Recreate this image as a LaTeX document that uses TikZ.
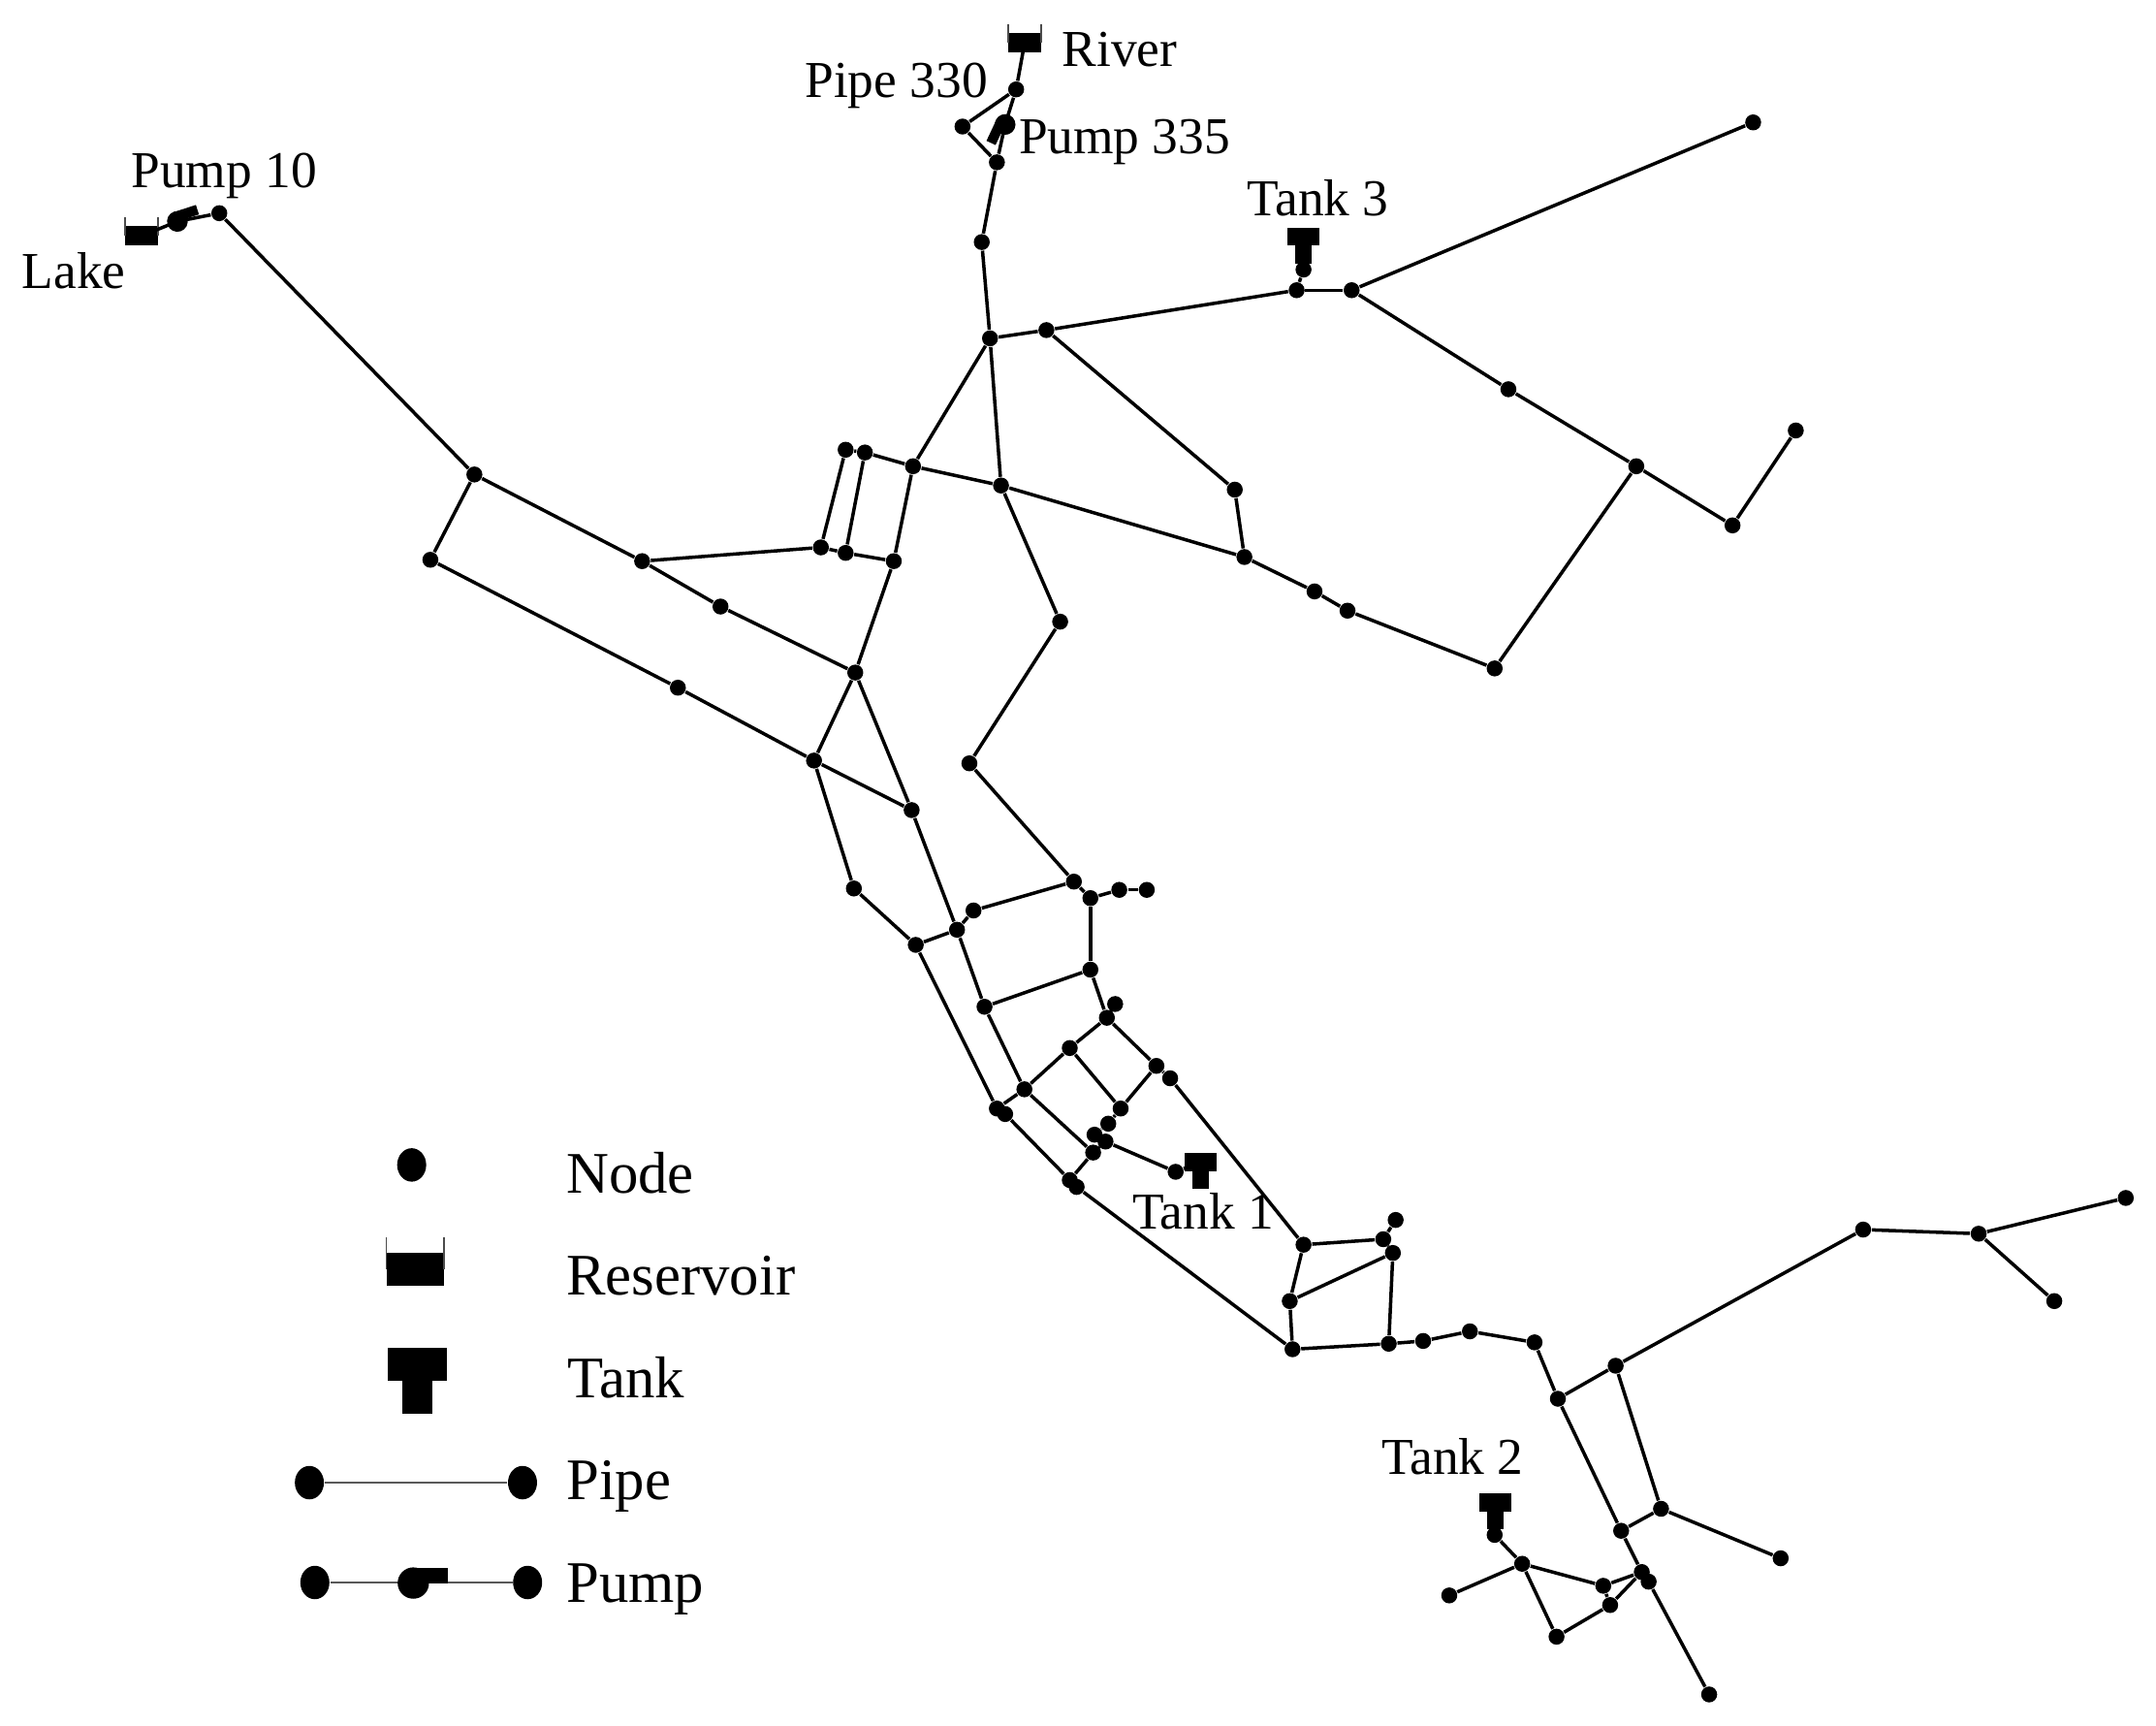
\documentclass[tikz,border=0pt]{standalone}
\usepackage{fontspec}
\setmainfont{Liberation Serif}
\usetikzlibrary{shapes.geometric}
\tikzset{
  junction/.style={circle,fill=black,inner sep=0pt,minimum size=.165cm},
  legendnode/.style={ellipse,fill=black,inner sep=0pt,minimum width=.3cm,minimum height=.345cm},
  pipe/.style={black,line width=1pt},
  legendpipe/.style={black!65,line width=.7pt},
  maplabel/.style={inner sep=0pt,anchor=base west,font=\fontsize{15.2}{18}\selectfont},
  legendlabel/.style={inner sep=0pt,anchor=base west,font=\fontsize{17.3}{20}\selectfont},
  reservoir/.pic={
    \fill (-21,-12.2) rectangle (21,12.2);
    \draw[black!70,line width=.5pt] (-21,-23.5) -- (-21,0) (21,-23.5) -- (21,0);
  },
  tanksym/.pic={
    \fill (-21.8,-12) rectangle (21.8,12);
    \fill (-10.8,12) rectangle (10.8,36);
  },
  pumpsym/.pic={
    \fill (0,0) circle (11.4);
    \fill (0,-11) rectangle (25,0);
  }
}

\begin{document}
\begin{tikzpicture}[x=.014184cm,y=-.014184cm]
  \useasboundingbox (0,0) rectangle (1568,1254.3);

  % junctions
  \foreach \name/\x/\y in {
    1/739/65,2/700/92,3/725/118,4/714/176,5/720/246,6/761/240,7/943/211,8/948/196,
    9/983/211,10/1275/89,11/1097/283,12/1190/339,13/1260/382,14/1306/313,15/1087/486,
    16/980/444,17/956/430,18/905/405,19/898/356,20/728/353,21/664/339,22/629/329,
    23/615/327,24/597/398,25/615/402,26/650/408,27/622/489,28/467/408,29/524/441,
    30/345/345,31/313/407,32/493/500,33/592/553,34/663/589,35/621/646,36/666/687,
    37/696/676,38/708/662,39/781/641,40/793/653,41/814/647,42/834/647,43/771/452,
    44/705/555,45/793/705,46/716/732,47/811/730,48/805/740,49/778/762,50/745/792,
    51/725/806,52/731/810,53/841/775,54/851/784,55/815/806,56/806/817,57/796/825,
    58/804/830,59/795/838,60/778/858,61/783/863,62/855/852,63/948/905,64/1006/901,
    65/1015/887,66/1013/911,67/938/946,68/940/981,69/1010/977,70/1035/975,71/1069/968,
    72/1116/976,73/1133/1017,74/1175/993,75/1355/894,76/1439/897,77/1546/871,78/1494/946,
    79/1208/1097,80/1179/1113,81/1295/1133,82/1194/1143,83/1199/1150,84/1243/1232,
    85/1166/1153,86/1171/1167,87/1132/1190,88/1107/1137,89/1054/1160,90/1087/1116,91/159.5/155}
    \node[junction] (v_\name) at (\x,\y) {};

  % pipes
  \foreach \a/\b in {
    1/2,2/3,3/4,4/5,5/6,6/7,7/8,7/9,9/10,9/11,11/12,12/13,13/14,12/15,15/16,16/17,17/18,
    6/19,19/18,18/20,20/21,21/22,22/23,23/24,22/25,21/26,24/25,25/26,28/24,26/27,21/5,5/20,
    20/43,43/44,44/39,39/40,40/41,41/42,39/38,38/37,37/36,40/45,30/28,28/29,29/27,30/31,
    31/32,32/33,27/33,33/34,27/34,34/37,33/35,35/36,37/46,36/51,91/30,
    46/45,45/48,48/47,48/49,49/50,50/51,51/52,46/50,50/59,49/55,48/53,53/54,53/55,55/56,
    56/57,57/58,58/59,58/62,59/60,52/60,60/61,61/68,54/63,63/64,64/65,64/66,66/67,63/67,
    67/68,68/69,66/69,69/70,70/71,71/72,72/73,73/74,74/75,75/76,76/77,76/78,74/79,73/80,
    79/80,79/81,80/82,82/83,83/84,85/82,86/82,85/86,86/87,87/88,88/85,88/89,90/88}
    \draw[pipe] (v_\a) -- (v_\b);

  % sources and pumps
  \coordinate (lake) at (103,171.5);
  \coordinate (river) at (745.2,31);
  \coordinate (pump_10) at (129,161);
  \coordinate (pump_335) at (731,90.5);
  \pic[scale=.57] at (lake) {reservoir};
  \pic[scale=.57] at (river) {reservoir};
  \pic[scale=.66,rotate=18] at (pump_10) {pumpsym};
  \pic[scale=.66,rotate=-115,yscale=-1] at (pump_335) {pumpsym};
  \draw[pipe] (lake) -- (pump_10) -- (v_91);
  \draw[pipe] (river) -- (v_1);
  \draw[pipe] (v_1) -- (pump_335) -- (v_3);

  % tanks
  \coordinate (tank_1) at (873,845);
  \coordinate (tank_2) at (1087.5,1092.5);
  \coordinate (tank_3) at (948,172);
  \pic[scale=.54] at (tank_1) {tanksym};
  \pic[scale=.54] at (tank_2) {tanksym};
  \pic[scale=.54] at (tank_3) {tanksym};
  \draw[pipe] (tank_1) -- (v_62);
  \draw[pipe] (tank_2) -- (v_90);
  \draw[pipe] (tank_3) -- (v_8);

  \node[maplabel] (lb_pump10) at (95,136.3) {Pump 10};
  \node[maplabel] (lb_lake) at (15.5,209.5) {Lake};
  \node[maplabel] (lb_river) at (772,48.5) {River};
  \node[maplabel] (lb_pipe330) at (585,71) {Pipe 330};
  \node[maplabel] (lb_pump335) at (740.5,111.5) {Pump 335};
  \node[maplabel] (lb_tank3) at (906.5,157) {Tank 3};
  \node[maplabel] (lb_tank1) at (823,893.5) {Tank 1};
  \node[maplabel] (lb_tank2) at (1004.5,1072) {Tank 2};

  % legend
  \node[legendnode] (lg_node) at (299.4,847) {};
  \pic at (302,923) {reservoir};
  \pic at (303.5,992) {tanksym};
  \node[legendnode] (lg_a) at (225,1078) {};
  \node[legendnode] (lg_b) at (380,1078) {};
  \draw[legendpipe] (lg_a) -- (lg_b);
  \node[legendnode] (lg_c) at (229,1150.6) {};
  \node[legendnode] (lg_d) at (383.7,1150.6) {};
  \draw[legendpipe] (lg_c) -- (lg_d);
  \pic at (300.6,1151) {pumpsym};

  \node[legendlabel] (tx_node) at (411.4,867.5) {Node};
  \node[legendlabel] (tx_reservoir) at (411.4,941.7) {Reservoir};
  \node[legendlabel] (tx_tank) at (412,1016.3) {Tank};
  \node[legendlabel] (tx_pipe) at (411.4,1090.6) {Pipe};
  \node[legendlabel] (tx_pump) at (411.4,1165) {Pump};
\end{tikzpicture}
\end{document}
